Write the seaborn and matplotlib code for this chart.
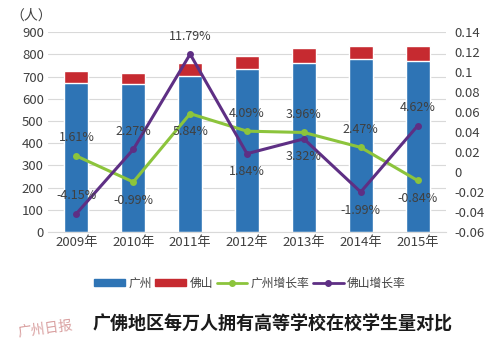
import pandas as pd
import matplotlib
matplotlib.use('Agg')
import matplotlib.pyplot as plt
from matplotlib.patches import Patch
from matplotlib.lines import Line2D
import seaborn as sns

# data
years = ['2009年', '2010年', '2011年', '2012年', '2013年', '2014年', '2015年']
guangzhou = [670, 666, 702, 733, 759, 777, 769]
foshan_extra = [55, 51, 58, 59, 67, 60, 68]   # red part stacked on top
gz_rate = [0.0161, -0.0099, 0.0584, 0.0409, 0.0396, 0.0247, -0.0084]
fs_rate = [-0.0415, 0.0227, 0.1179, 0.0184, 0.0332, -0.0199, 0.0462]
gz_labels = ['1.61%', '-0.99%', '5.84%', '4.09%', '3.96%', '2.47%', '-0.84%']
fs_labels = ['-4.15%', '2.27%', '11.79%', '1.84%', '3.32%', '-1.99%', '4.62%']
# label above (+1) or below (-1) the point
gz_side = [1, -1, -1, 1, 1, 1, -1]
fs_side = [1, 1, 1, -1, -1, -1, 1]

blue = '#2e74b5'
red = '#c62a30'
green = '#8cc43c'
purple = '#5e2f84'
txt = '#404040'

sns.set_style('white')
plt.rcParams['font.family'] = ['Noto Sans CJK SC', 'DejaVu Sans']

df = pd.DataFrame({'year': years, 'gz': guangzhou,
                   'total': [a + b for a, b in zip(guangzhou, foshan_extra)],
                   'gz_rate': gz_rate, 'fs_rate': fs_rate})

fig = plt.figure(figsize=(5, 3.56), dpi=100)
ax = fig.add_axes([0.096, 0.348, 0.796, 0.562])

sns.barplot(data=df, x='year', y='total', color=red, width=0.42,
            saturation=1, ax=ax)
sns.barplot(data=df, x='year', y='gz', color=blue, width=0.42,
            saturation=1, ax=ax)
ax.set_ylim(0, 900)
ax.set_yticks(range(0, 1000, 100))
ax.set_xlim(-0.5, 6.5)
ax.set_xlabel('')
ax.set_ylabel('')
ax.yaxis.grid(True, color='#d9d9d9', linewidth=0.8)
ax.set_axisbelow(True)
for s in ax.spines.values():
    s.set_visible(False)
ax.spines['bottom'].set_visible(True)
ax.spines['bottom'].set_color('#d9d9d9')
ax.tick_params(axis='both', length=0, labelsize=9.5, colors=txt, pad=3)

ax2 = ax.twinx()
x = list(range(len(years)))
sns.lineplot(x=x, y=df['gz_rate'], color=green, marker='o', markersize=5,
             markeredgewidth=0, linewidth=2.2, ax=ax2)
sns.lineplot(x=x, y=df['fs_rate'], color=purple, marker='o', markersize=5,
             markeredgewidth=0, linewidth=2.2, ax=ax2)
ax2.set_ylim(-0.06, 0.14)
ax2.set_yticks([-0.06, -0.04, -0.02, 0, 0.02, 0.04, 0.06, 0.08, 0.1, 0.12, 0.14])
ax2.set_yticklabels(['-0.06', '-0.04', '-0.02', '0', '0.02', '0.04', '0.06',
                     '0.08', '0.1', '0.12', '0.14'])
ax2.set_xlim(-0.5, 6.5)
ax2.set_ylabel('')
for s in ax2.spines.values():
    s.set_visible(False)
ax2.tick_params(axis='y', length=0, labelsize=9.5, colors=txt, pad=6)

for i in x:
    ax2.annotate(gz_labels[i], (i, gz_rate[i]), xytext=(0, 13 * gz_side[i]),
                 textcoords='offset points', ha='center', va='center',
                 fontsize=9, color=txt)
    ax2.annotate(fs_labels[i], (i, fs_rate[i]), xytext=(0, 13 * fs_side[i]),
                 textcoords='offset points', ha='center', va='center',
                 fontsize=9, color=txt)

fig.text(0.02, 0.955, '（人）', fontsize=10, color=txt, ha='left', va='center')

handles = [Patch(color=blue), Patch(color=red),
           Line2D([], [], color=green, marker='o', markersize=4, linewidth=2),
           Line2D([], [], color=purple, marker='o', markersize=4, linewidth=2)]
fig.legend(handles, ['广州', '佛山', '广州增长率', '佛山增长率'],
           loc='center', bbox_to_anchor=(0.5, 0.205), ncol=4, frameon=False,
           fontsize=8.5, handlelength=2.6, handleheight=0.5, handletextpad=0.3,
           columnspacing=0.3, labelcolor=txt)

fig.text(0.545, 0.09, '广佛地区每万人拥有高等学校在校学生量对比', fontsize=13,
         fontweight='bold', color='#1a1a1a', ha='center', va='center')
fig.text(0.09, 0.075, '广州日报', fontsize=10, style='italic', color='#d9a0a0',
         ha='center', va='center', rotation=8)

fig.savefig('out.png', dpi=100)
